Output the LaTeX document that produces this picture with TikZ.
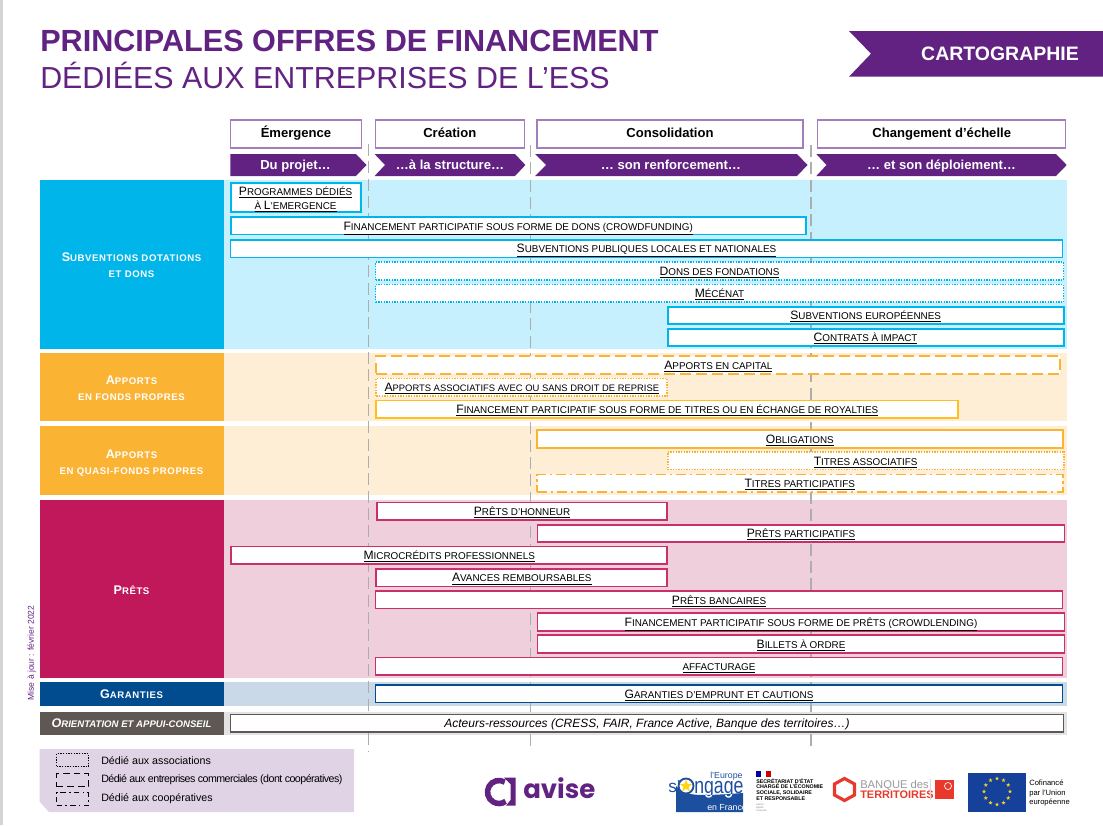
\documentclass[tikz,border=0pt]{standalone}
\usepackage{fontspec}
\setmainfont{Liberation Sans}
\newfontfamily\logofont{Poppins}
\usepackage{graphicx}
\usepackage{xcolor}
\definecolor{aviseViolet}{HTML}{612282}
\definecolor{aviseTrait}{HTML}{A27FBA}
\definecolor{aviseLegende}{HTML}{E0D3E6}
\definecolor{repereGris}{HTML}{ADADAD}
\definecolor{bleuFort}{HTML}{00B5E9}
\definecolor{bleuPale}{HTML}{C7F0FE}
\definecolor{orangeFort}{HTML}{FBB333}
\definecolor{orangePale}{HTML}{FEEED5}
\definecolor{jauneTrait}{HTML}{FFBF1F}
\definecolor{roseFort}{HTML}{C1185B}
\definecolor{roseTrait}{HTML}{C9306A}
\definecolor{rosePale}{HTML}{F0CFDD}
\definecolor{marineFort}{HTML}{004C8F}
\definecolor{marinePale}{HTML}{C9D9E8}
\definecolor{grisFort}{HTML}{5E5753}
\definecolor{grisPale}{HTML}{E3E3E3}
\definecolor{bordPage}{HTML}{D4D4D6}
\definecolor{europeBleu}{HTML}{1D4F9F}
\definecolor{europeFlag}{HTML}{15419A}
\definecolor{europeOr}{HTML}{FFD617}
\definecolor{banqueRouge}{HTML}{E8392C}
\usepackage{tikz}
\usetikzlibrary{shapes.geometric,positioning}
% capitale haute dans les textes en petites capitales
\DeclareRobustCommand{\gd}[1]{{\fontsize{9.1}{10}\selectfont #1}}
\DeclareRobustCommand{\gdcat}[1]{{\fontsize{9.4}{12}\selectfont #1}}
\newcommand{\offre}[1]{\underline{\MakeUppercase{#1}}}
\tikzset{
    larg/.style={minimum width=#1*0.75pt},
    haut/.style={minimum height=#1*0.75pt},
    phase/.style={
        draw=aviseTrait,
        fill=white,
        line width=1.1pt,
        inner sep=0pt,
        minimum height=28*0.75pt,
        text height=8pt,
        text depth=2.2pt,
        font=\bfseries\fontsize{9.8}{12}\selectfont
    },
    chevron/.style={
        fill=aviseViolet
    },
    chevrontexte/.style={
        text=white,
        inner sep=0pt,
        text height=9pt,
        text depth=2pt,
        font=\bfseries\fontsize{9.8}{12}\selectfont
    },
    repere/.style={
        draw=repereGris,
        line width=1.1pt,
        dash pattern=on 9pt off 4pt
    },
    pale/.style={
        inner sep=0pt,
        minimum width=843*0.75pt
    },
    categorie/.style={
        inner sep=0pt,
        align=center,
        minimum width=184*0.75pt,
        text=white,
        font=\bfseries\fontsize{7.2}{12}\selectfont\addfontfeatures{LetterSpace=6}
    },
    offreplein/.style={
        fill=white,
        line width=1.4pt,
        inner sep=0pt,
        align=center,
        minimum height=17.5*0.75pt,
        text height=8.3pt,
        text depth=2pt,
        text=black,
        font=\fontsize{7.4}{10.5}\selectfont
    },
    pointille/.style={offreplein, dash pattern=on 1pt off 1pt},
    tirets/.style={offreplein, dash pattern=on 8pt off 4pt},
    mixte/.style={offreplein, dash pattern=on 8pt off 2.5pt on 2pt off 2.5pt},
    legende/.style={
        draw=black,
        line width=0.8pt,
        inner sep=0pt,
        minimum width=32*0.75pt,
        minimum height=13*0.75pt
    },
    legendetexte/.style={
        anchor=west,
        inner sep=0pt,
        font=\fontsize{8}{10}\selectfont
    },
    etoile/.style={
        star,
        star points=5,
        star point ratio=2.4,
        fill=europeOr,
        inner sep=0pt,
        minimum size=3.2pt
    },
    logotexte/.style={
        anchor=base west,
        inner sep=0pt
    }
}
\begin{document}
\begin{tikzpicture}[x=0.75pt,y=-0.75pt]
    \useasboundingbox (0,0) rectangle (1103,825);
    \fill[bordPage] (0,0) rectangle (3,825);

    % Titre
    \node[logotexte, text=aviseViolet, font=\bfseries\fontsize{22.95}{26}\selectfont] (titre) at (40,51) {PRINCIPALES OFFRES DE FINANCEMENT};
    \node[logotexte, text=aviseViolet, font=\fontsize{22.8}{26}\selectfont] (soustitre) at (40,88) {DÉDIÉES AUX ENTREPRISES DE L’ESS};

    % Bandeau
    \fill[aviseViolet] (849,31) -- (1103,31) -- (1103,76.7) -- (849,76.7) -- (871,53.7) -- cycle;
    \node[text=white, inner sep=0pt, font=\bfseries\fontsize{14.6}{16}\selectfont] (carto) at (1000,54) {CARTOGRAPHIE};

    % Phases
    \node[phase, larg=131] (emergence) at (296,133.8) {Émergence};
    \node[phase, larg=149] (creation) at (449.8,133.8) {Création};
    \node[phase, larg=266] (consolidation) at (670,133.8) {Consolidation};
    \node[phase, larg=248] (changement) at (941.7,133.8) {Changement d’échelle};

    % Chevrons
    \fill[chevron] (230.4,154) -- (356,154) -- (366.5,165) -- (356,176) -- (230.4,176) -- cycle;
    \fill[chevron] (374.6,154) -- (515,154) -- (525.4,165) -- (515,176) -- (374.6,176) -- (385,165) -- cycle;
    \fill[chevron] (535,154) -- (797,154) -- (807.5,165) -- (797,176) -- (535,176) -- (546,165) -- cycle;
    \fill[chevron] (816.3,154) -- (1056,154) -- (1066.7,165) -- (1056,176) -- (816.3,176) -- (826.5,165) -- cycle;
    \node[chevrontexte] (projet) at (295.5,165) {Du projet…};
    \node[chevrontexte] (structure) at (450,165) {…à la structure…};
    \node[chevrontexte] (renfort) at (671,165) {… son renforcement…};
    \node[chevrontexte] (deploiement) at (941.5,165) {… et son déploiement…};

    % Fonds pales
    \node[pale, fill=bleuPale, haut=169] (fondsubv) at (645,264.5) {};
    \node[pale, fill=orangePale, haut=68.6] (fondfonds) at (645.5,387) {};
    \node[pale, fill=orangePale, haut=69] (fondquasi) at (645.5,460.5) {};
    \node[pale, fill=rosePale, haut=177.7] (fondprets) at (645.5,588.8) {};
    \node[pale, fill=marinePale, haut=23.7] (fondgar) at (645,693.8) {};
    \node[pale, fill=grisPale, haut=23.6] (fondorient) at (645,723.5) {};

    % Reperes verticaux
    \coordinate (r1h) at (368.3,144);
    \coordinate (r1b) at (368.3,751);
    \coordinate (r2h) at (530.7,145);
    \coordinate (r2b) at (530.7,749);
    \coordinate (r3h) at (811,145);
    \coordinate (r3b) at (811,749);
    \draw[repere] (r1h) -- (r1b);
    \draw[repere] (r2h) -- (r2b);
    \draw[repere] (r3h) -- (r3b);

    % Categories
    \node[categorie, fill=bleuFort, haut=169] (subv) at (131.5,264.5) {\rule{0pt}{8.3pt}\gdcat{S}UBVENTIONS DOTATIONS\\ET DONS};
    \node[categorie, fill=orangeFort, haut=68.6] (fonds) at (131.5,387) {\rule{0pt}{8.3pt}\gdcat{A}PPORTS\\EN FONDS PROPRES};
    \node[categorie, fill=orangeFort, haut=69] (quasi) at (131.5,460.5) {\rule{0pt}{9.8pt}\gdcat{A}PPORTS\\EN QUASI-FONDS PROPRES};
    \node[categorie, fill=roseFort, haut=177.7] (prets) at (131.5,588.8) {\rule{0pt}{8.3pt}\gdcat{P}RÊTS};
    \node[categorie, fill=marineFort, haut=23.7] (garanties) at (131.5,693.8) {\gdcat{G}ARANTIES};
    \node[categorie, fill=grisFort, haut=23.6, font=\bfseries\itshape\fontsize{7.2}{12}\selectfont] (orient) at (131.5,723.5) {\gdcat{O}RIENTATION ET APPUI-CONSEIL};

    % Subventions
    \node[offreplein, draw=bleuFort, larg=130, haut=28.5, text height=, text depth=] (programmes) at (295.6,197.3) {\rule{0pt}{9.5pt}\offre{\gd{P}rogrammes dédiés}\\\offre{à \gd{L}’emergence}};
    \node[offreplein, draw=bleuFort, larg=575] (crowdfunding) at (518.2,225.8) {\offre{\gd{F}inancement participatif sous forme de dons (crowdfunding)}};
    \node[offreplein, draw=bleuFort, larg=832] (publiques) at (646.5,248.7) {\offre{\gd{S}ubventions publiques locales et nationales}};
    \node[pointille, draw=bleuFort, larg=688] (fondations) at (719.5,271) {\offre{\gd{D}ons des fondations}};
    \node[pointille, draw=bleuFort, larg=688] (mecenat) at (719.5,293.2) {\offre{\gd{M}écénat}};
    \node[offreplein, draw=bleuFort, larg=396] (europe) at (865.6,315.4) {\offre{\gd{S}ubventions européennes}};
    \node[offreplein, draw=bleuFort, larg=396] (impact) at (865.6,337.4) {\offre{\gd{C}ontrats à impact}};

    % Fonds propres
    \node[tirets, draw=orangeFort, larg=684] (capital) at (718.4,365) {\offre{\gd{A}pports en capital}};
    \node[pointille, draw=orangeFort, larg=291, font=\fontsize{7.05}{10.5}\selectfont] (associatifs) at (521.8,387.2) {\offre{\gd{A}pports associatifs avec ou sans droit de reprise}};
    \node[offreplein, draw=jauneTrait, larg=582] (titres) at (667.3,409.2) {\offre{\gd{F}inancement participatif sous forme de titres ou en échange de royalties}};

    % Quasi-fonds propres
    \node[offreplein, draw=orangeFort, larg=526] (obligations) at (799.8,439) {\offre{\gd{O}bligations}};
    \node[pointille, draw=orangeFort, larg=396] (titresasso) at (865.6,460.8) {\offre{\gd{T}itres associatifs}};
    \node[mixte, draw=orangeFort, larg=526] (titrespart) at (799.7,483.2) {\offre{\gd{T}itres participatifs}};

    % Prets
    \node[offreplein, draw=roseTrait, larg=290] (honneur) at (522,511.2) {\offre{\gd{P}rêts d’honneur}};
    \node[offreplein, draw=roseTrait, larg=527] (participatifs) at (801,533.5) {\offre{\gd{P}rêts participatifs}};
    \node[offreplein, draw=roseTrait, larg=436] (microcredits) at (449.2,555.3) {\offre{\gd{M}icrocrédits professionnels}};
    \node[offreplein, draw=roseTrait, larg=291] (avances) at (521.8,577.7) {\offre{\gd{A}vances remboursables}};
    \node[offreplein, draw=roseTrait, larg=687] (bancaires) at (719,599.8) {\offre{\gd{P}rêts bancaires}};
    \node[offreplein, draw=roseTrait, larg=527] (crowdlending) at (801,622) {\offre{\gd{F}inancement participatif sous forme de prêts (crowdlending)}};
    \node[offreplein, draw=roseTrait, larg=527] (billets) at (801,644) {\offre{\gd{B}illets à ordre}};
    \node[offreplein, draw=roseTrait, larg=687] (affacturage) at (719,666.3) {\offre{affacturage}};

    % Garanties et orientation
    \node[offreplein, draw=marineFort, larg=687] (cautions) at (719,693.8) {\offre{\gd{G}aranties d’emprunt et cautions}};
    \node[offreplein, draw=grisFort, larg=833, font=\itshape\fontsize{9}{11}\selectfont] (acteurs) at (647,723.3) {Acteurs-ressources (CRESS, FAIR, France Active, Banque des territoires…)};

    % Date
    \node[rotate=90, text=aviseViolet, inner sep=0pt, font=\fontsize{6.4}{8}\selectfont] (date) at (31.6,653) {Mise à jour : février 2022};

    % Legende
    \fill[aviseLegende] (39.6,749) -- (354,749) -- (354,812) -- (49,812) -- (39.6,801.7) -- cycle;
    \node[legende, dash pattern=on 1pt off 1pt] (legasso) at (72.6,760.2) {};
    \node[legende, dash pattern=on 5pt off 3pt] (legentr) at (72.6,780) {};
    \node[legende, dash pattern=on 4pt off 2.5pt on 1.2pt off 2.5pt] (legcoop) at (72.6,799) {};
    \node[legendetexte] (txtasso) at (101,761) {Dédié aux associations};
    \node[legendetexte, font=\fontsize{8}{10}\selectfont\addfontfeatures{LetterSpace=-5}] (txtentr) at (101,780) {Dédié aux entreprises commerciales (dont coopératives)};
    \node[legendetexte] (txtcoop) at (101,799) {Dédié aux coopératives};

    % Logo avise
    \draw[aviseViolet, line width=4.2pt] (499,792) ++(-60:11.5) arc[start angle=-60, end angle=-305, radius=11.5];
    \fill[aviseViolet] (504,777.7) -- (515.7,777.7) -- (515.7,805.7) -- (506,805.7) -- (510.5,800) -- (510.5,784) -- cycle;
    \node[logotexte, text=aviseViolet, font=\logofont\bfseries\fontsize{19.5}{22}\selectfont] (avise) at (523,798.5) {avise};

    % Logo Europe
    \fill[europeBleu] (676,786) .. controls (685,797) and (700,796) .. (743,793) -- (743,812) -- (676,812) -- cycle;
    \node[logotexte, text=europeBleu, font=\fontsize{6.6}{8}\selectfont] (leurope) at (710,778.5) {l’Europe};
    \node[logotexte, text=europeBleu, font=\fontsize{13}{16}\selectfont] (sapo) at (668,792) {s’};
    \node[logotexte, text=europeBleu, font=\fontsize{17}{20}\selectfont] (ngage) at (694,793) {\scalebox{0.78}[1]{ngage}};
    \begin{scope}
        \clip (676,786) .. controls (685,797) and (700,796) .. (743,793) -- (743,812) -- (676,812) -- cycle;
        \node[logotexte, text=white, font=\fontsize{17}{20}\selectfont] (ngagebas) at (694,793) {\scalebox{0.78}[1]{ngage}};
    \end{scope}
    \draw[europeBleu, line width=1.4pt, fill=white] (686,786) circle[radius=7.5];
    \node[etoile, minimum size=10pt] (etoilee) at (686,786) {};
    \node[logotexte, text=white, font=\fontsize{6.6}{8}\selectfont] (france) at (707,810) {en France};

    % Logo secretariat
    \fill[blue!60!black] (756,771) rectangle (761,776.7);
    \fill[red!80!black] (765.5,771) rectangle (770.7,776.7);
    \node[anchor=north west, align=left, inner sep=0pt, font=\bfseries\fontsize{4}{4.4}\selectfont] (secretariat) at (756,778) {SECRÉTARIAT D’ÉTAT\\CHARGÉ DE L’ÉCONOMIE\\SOCIALE, SOLIDAIRE\\ET RESPONSABLE};
    \node[anchor=north west, align=left, inner sep=0pt, text=gray, font=\itshape\fontsize{1.8}{2.4}\selectfont] (devise) at (756,803) {Liberté\\Égalité\\Fraternité};

    % Logo banque
    \draw[banqueRouge, line width=2.4pt] (844.5,778.5) -- (854.5,784) -- (854.5,795) -- (844.5,800.5) -- (834.5,795) -- (834.5,784) -- cycle;
    \node[logotexte, text=gray!80, font=\fontsize{8.4}{11}\selectfont] (banque) at (860,788) {BANQUE des};
    \node[logotexte, text=banqueRouge, font=\bfseries\fontsize{8.2}{11}\selectfont] (territoires) at (860,798) {TERRITOIRES};
    \draw[gray!30, line width=0.4pt] (930.7,779) -- (930.7,800);
    \fill[banqueRouge] (935,780) rectangle (954,799);
    \draw[white, line width=0.5pt] (948,786) circle[radius=3.5];

    % Logo UE
    \fill[europeFlag] (968.3,773.3) rectangle (1026,811.7);
    \foreach \a in {0,30,...,330} {
        \node[etoile] (ue\a) at ({997+13*cos(\a)},{791.5+13*sin(\a)}) {};
    }
    \node[anchor=north west, align=left, inner sep=0pt, font=\fontsize{5.7}{7}\selectfont] (cofinance) at (1029,780) {Cofinancé\\par l’Union\\européenne};
\end{tikzpicture}
\end{document}
